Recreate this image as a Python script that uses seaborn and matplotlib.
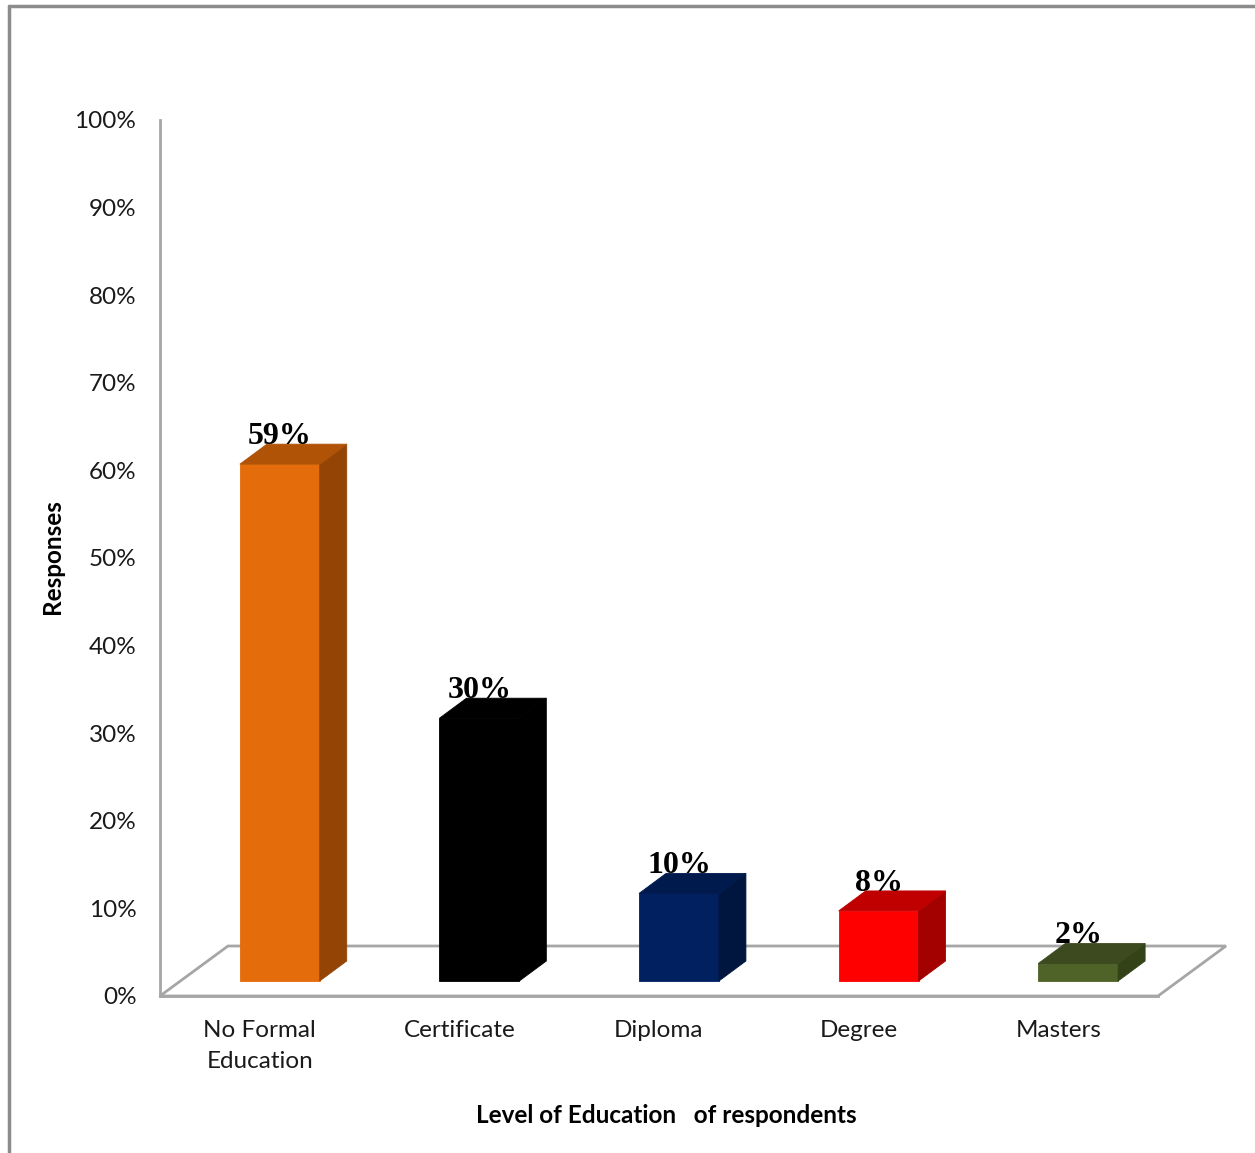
import numpy as np
import pandas as pd
import matplotlib
matplotlib.use("Agg")
import matplotlib.pyplot as plt
import matplotlib.transforms as mtransforms
from matplotlib.patches import Polygon
from matplotlib.lines import Line2D
import seaborn as sns

# Survey data: share of respondents by level of education
categories = ["No Formal\nEducation", "Certificate", "Diploma", "Degree", "Masters"]
responses = [59, 30, 10, 8, 2]
y_ticks = [0, 10, 20, 30, 40, 50, 60, 70, 80, 90, 100]
y_tick_labels = [f"{t}%" for t in y_ticks]

# Face colours for the pseudo-3D columns
front_colors = ["#E46C0A", "#000000", "#002060", "#FF0000", "#4F6228"]
side_colors = ["#944505", "#000000", "#00163F", "#A30000", "#344218"]
top_colors = ["#B05306", "#000000", "#001A4E", "#C00000", "#3D4A1F"]

sns.set_style("white")
plt.rcParams["font.family"] = ["Lato", "DejaVu Sans"]

DPI = 100
W, H = 1255, 1153
fig = plt.figure(figsize=(W / DPI, H / DPI), dpi=DPI)
ax = fig.add_axes([160 / W, 157 / H, 998 / W, 876 / H])

df = pd.DataFrame({"level": categories, "pct": responses})
sns.barplot(data=df, x="level", y="pct", hue="level", palette=front_colors,
            width=0.4, saturation=1, legend=False, ax=ax, zorder=3)
ax.set_xlim(-0.5, 4.5)
ax.set_ylim(0, 100)

# pixel -> data conversion factors for the depth effect
px_x = (4.5 - -0.5) / 998
px_y = 100 / 876
bar_dx, bar_dy = 27 * px_x, 20 * px_y
floor_dx, floor_dy = 68 * px_x, 50 * px_y

# columns stand partway back on the floor
shift = mtransforms.offset_copy(ax.transData, fig=fig, x=20, y=15, units="dots")

bars = list(ax.patches)
for i, (patch, val) in enumerate(zip(bars, responses)):
    patch.set_transform(shift)
    patch.set_edgecolor(front_colors[i])
    patch.set_linewidth(0.6)
    x0, w, h = patch.get_x(), patch.get_width(), patch.get_height()
    side = Polygon([(x0 + w, 0), (x0 + w + bar_dx, bar_dy),
                    (x0 + w + bar_dx, h + bar_dy), (x0 + w, h)],
                   closed=True, facecolor=side_colors[i],
                   edgecolor=side_colors[i], lw=0.6,
                   transform=shift, zorder=3)
    top = Polygon([(x0, h), (x0 + w, h), (x0 + w + bar_dx, h + bar_dy),
                   (x0 + bar_dx, h + bar_dy)],
                  closed=True, facecolor=top_colors[i],
                  edgecolor=top_colors[i], lw=0.6,
                  transform=shift, zorder=3)
    ax.add_patch(side)
    ax.add_patch(top)
    ax.text(x0 + w / 2, h + bar_dy, f"{val}%", transform=shift,
            ha="center", va="baseline", fontfamily="Liberation Serif",
            fontweight="bold", fontsize=23, color="black", zorder=6)

# floor plane
floor = Polygon([(-0.5, 0), (4.5, 0), (4.5 + floor_dx, floor_dy),
                 (-0.5 + floor_dx, floor_dy)], closed=True,
                facecolor="white", edgecolor="#A6A6A6", lw=2,
                clip_on=False, zorder=1)
ax.add_patch(floor)

# axes styling
sns.despine(ax=ax)
for s in ("left", "bottom"):
    ax.spines[s].set_color("#A6A6A6")
    ax.spines[s].set_linewidth(2)

ax.set_yticks(y_ticks, y_tick_labels)
ax.tick_params(axis="y", direction="out", length=6, width=1.5, color="#A6A6A6",
               labelsize=17.5, labelcolor="#1a1a1a", pad=11)

ax.set_xticks(range(len(categories)), categories)
ax.set_xticks(np.arange(-0.5, len(categories), 1), minor=True)
ax.tick_params(axis="x", which="major", length=0, labelsize=17.5,
               labelcolor="#1a1a1a", pad=17)
for tick in ax.xaxis.get_major_ticks():
    tick.label1.set_linespacing(1.6)
ax.tick_params(axis="x", which="minor", direction="out", length=6.5,
               width=1.5, color="#A6A6A6")

ax.set_xlabel("Level of Education   of respondents", fontsize=17.5,
              fontweight="bold", color="black")
ax.xaxis.set_label_coords((666 - 160) / 998, (996 - 1104) / 876)
ax.set_ylabel("Responses", fontsize=17.5, fontweight="bold", color="black")
ax.yaxis.set_label_coords((52 - 160) / 998, (996 - 557) / 876)
ax.yaxis.label.set_verticalalignment("center")

# outer chart frame
frame_kw = dict(transform=fig.transFigure, color="#8C8C8C", lw=2.5)
fig.add_artist(Line2D([9 / W, 9 / W], [0, 1 - 6 / H], **frame_kw))
fig.add_artist(Line2D([9 / W, 1], [1 - 6 / H, 1 - 6 / H], **frame_kw))

fig.savefig("out.png", dpi=DPI)
